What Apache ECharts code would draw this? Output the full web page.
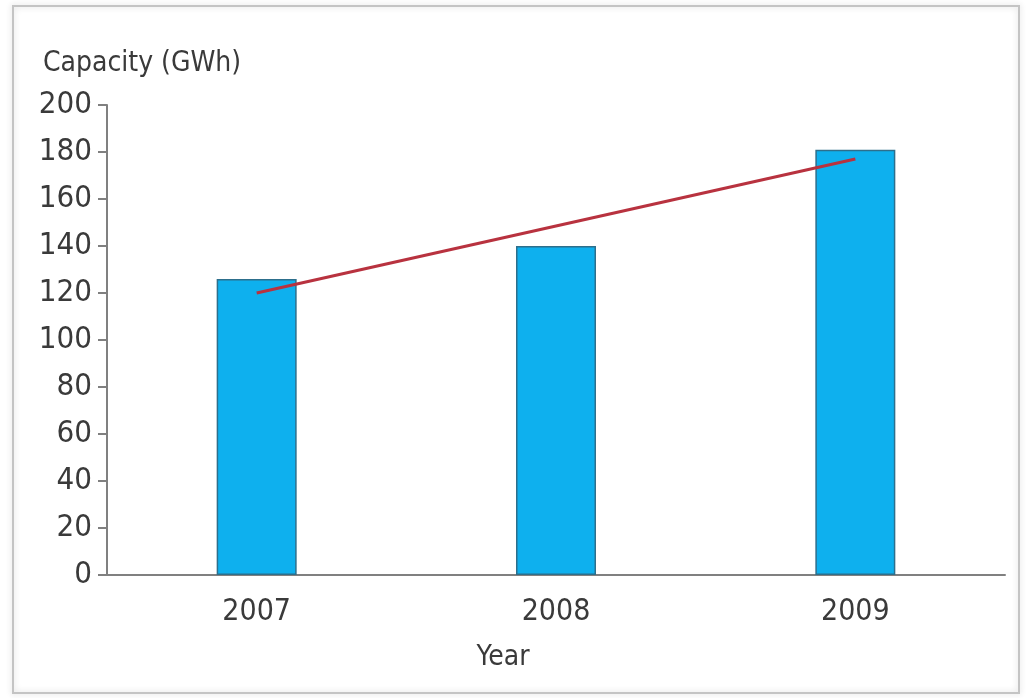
<!DOCTYPE html>
<html>
<head>
<meta charset="utf-8">
<script src="https://cdn.jsdelivr.net/npm/echarts@6/dist/echarts.min.js"></script>
<style>
  html, body { margin: 0; padding: 0; background: #fff; }
  #chart { width: 1026px; height: 698px; }
</style>
</head>
<body>
<div id="chart"></div>
<script>
// Storage capacity per year, with a trend line from the first to the last year
const years = ['2007', '2008', '2009'];
const capacity = [126, 140, 181];
const trend = [120, null, 177];
const yTicks = { min: 0, max: 200, interval: 20 };

const FONT = '"Liberation Sans Narrow", "DejaVu Sans Condensed", sans-serif';
const TEXT = '#3a3a3a';

const chart = echarts.init(document.getElementById('chart'), null, { renderer: 'canvas' });

chart.setOption({
  backgroundColor: '#fff',
  animation: false,
  graphic: [{
    type: 'rect',
    shape: { x: 13, y: 6, width: 1006, height: 687 },
    style: { fill: 'none', stroke: '#c4c4c4', lineWidth: 2,
             shadowBlur: 6, shadowColor: 'rgba(0,0,0,0.18)' },
    z: -1
  }],
  title: {
    text: 'Capacity (GWh)',
    left: 38, top: 45,
    textStyle: { fontFamily: FONT, fontSize: 28, fontWeight: 'normal', color: TEXT }
  },
  grid: { left: 107, right: 21, top: 105, bottom: 123, containLabel: false },
  xAxis: {
    type: 'category',
    data: years,
    name: 'Year',
    nameLocation: 'middle',
    nameGap: 69,
    nameTextStyle: { fontFamily: FONT, fontSize: 28, color: TEXT, padding: [0, 106, 0, 0] },
    axisLine: { lineStyle: { color: '#808080', width: 2 } },
    axisTick: { show: false },
    axisLabel: { margin: 22, fontFamily: FONT, fontSize: 30, color: TEXT }
  },
  yAxis: {
    type: 'value',
    min: yTicks.min, max: yTicks.max, interval: yTicks.interval,
    axisLine: { show: true, lineStyle: { color: '#808080', width: 2 } },
    axisTick: { show: true, length: 9, lineStyle: { color: '#808080', width: 2 } },
    splitLine: { show: false },
    axisLabel: { margin: 15, fontFamily: FONT, fontSize: 31, color: TEXT }
  },
  series: [{
    type: 'bar',
    data: capacity,
    barWidth: 80,
    itemStyle: { color: '#0eb0ee', borderColor: '#2d6f8c', borderWidth: 1.5 }
  }, {
    type: 'line',
    data: trend,
    connectNulls: true,
    symbol: 'none',
    lineStyle: { color: '#b8323f', width: 3 },
    z: 5
  }]
});
</script>
</body>
</html>
